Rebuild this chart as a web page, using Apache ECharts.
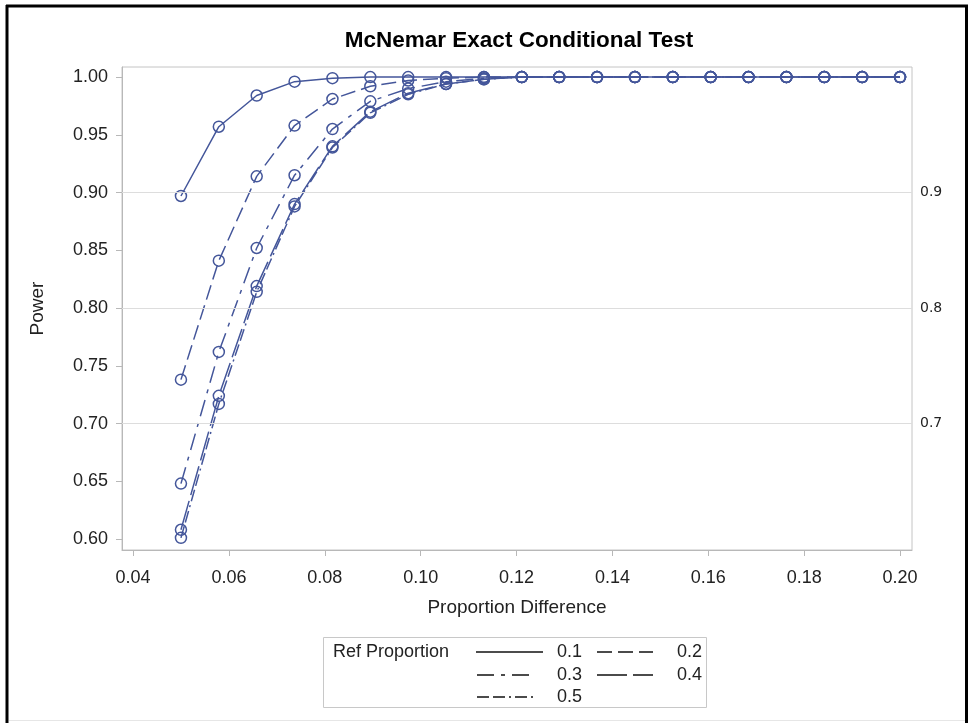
<!DOCTYPE html>
<html><head><meta charset="utf-8">
<script src="https://cdn.jsdelivr.net/npm/echarts@6/dist/echarts.min.js"></script>
<style>html,body{margin:0;padding:0;background:#fff}#c{width:969px;height:723px}</style>
</head><body><div id="c"></div>
<script>
const propDiff = [0.05, 0.0579, 0.0658, 0.0737, 0.0816, 0.0895, 0.0974, 0.1053, 0.1132, 0.1211,
                  0.1289, 0.1368, 0.1447, 0.1526, 0.1605, 0.1684, 0.1763, 0.1842, 0.1921, 0.20];
const power01 = [0.897, 0.957, 0.984, 0.996, 0.999, 1.000, 1.000, 1.000, 1.000, 1.000,
                 1.000, 1.000, 1.000, 1.000, 1.000, 1.000, 1.000, 1.000, 1.000, 1.000];
const power02 = [0.738, 0.841, 0.914, 0.958, 0.981, 0.992, 0.997, 0.999, 1.000, 1.000,
                 1.000, 1.000, 1.000, 1.000, 1.000, 1.000, 1.000, 1.000, 1.000, 1.000];
const power03 = [0.648, 0.762, 0.852, 0.915, 0.955, 0.979, 0.990, 0.996, 0.999, 1.000,
                 1.000, 1.000, 1.000, 1.000, 1.000, 1.000, 1.000, 1.000, 1.000, 1.000];
const power04 = [0.608, 0.724, 0.819, 0.890, 0.940, 0.970, 0.986, 0.994, 0.998, 1.000,
                 1.000, 1.000, 1.000, 1.000, 1.000, 1.000, 1.000, 1.000, 1.000, 1.000];
const power05 = [0.601, 0.717, 0.814, 0.888, 0.939, 0.969, 0.985, 0.994, 0.998, 1.000,
                 1.000, 1.000, 1.000, 1.000, 1.000, 1.000, 1.000, 1.000, 1.000, 1.000];
const refProps = ['0.1', '0.2', '0.3', '0.4', '0.5'];
const yTicks = [0.60, 0.65, 0.70, 0.75, 0.80, 0.85, 0.90, 0.95, 1.00];
const xTicks = [0.04, 0.06, 0.08, 0.10, 0.12, 0.14, 0.16, 0.18, 0.20];
const rightTicks = [0.7, 0.8, 0.9];

const COLOR = '#44569a';
const FONT = '"Liberation Sans", Arial, sans-serif';
const dashes = ['solid', [15, 6], [17, 7, 4, 7], [30, 6], [12, 4, 12, 4, 2, 4]];
const allPower = [power01, power02, power03, power04, power05];

const series = allPower.map((p, i) => ({
  name: refProps[i],
  type: 'line',
  z: 3,
  data: propDiff.map((x, j) => [x, p[j]]),
  symbol: 'circle',
  symbolSize: 11,
  lineStyle: { color: COLOR, width: 1.5, type: dashes[i] },
  itemStyle: { color: 'rgba(255,255,255,0)', borderColor: COLOR, borderWidth: 1.5 },
  emphasis: { disabled: true },
  animation: false
}));
series.unshift({
  type: 'line', z: 1, data: [], silent: true,
  markLine: {
    silent: true, symbol: 'none', animation: false,
    label: { show: false },
    lineStyle: { color: '#dddddd', type: 'solid', width: 1 },
    data: rightTicks.map(v => ({ yAxis: v }))
  }
});

// Legend (drawn as graphic)
const legendItems = [
  { i: 0, x: 476, y: 652, len: 67 }, { i: 1, x: 597, y: 652, len: 56 },
  { i: 2, x: 477, y: 675, len: 56 }, { i: 3, x: 597, y: 675, len: 56 },
  { i: 4, x: 477, y: 697, len: 56 }
];
const graphic = [
  { type: 'line', shape: { x1: 7, y1: 5, x2: 7, y2: 723 }, style: { stroke: '#000', lineWidth: 3 } },
  { type: 'line', shape: { x1: 6, y1: 6, x2: 968, y2: 6 }, style: { stroke: '#000', lineWidth: 3 } },
  { type: 'line', shape: { x1: 966.5, y1: 5, x2: 966.5, y2: 723 }, style: { stroke: '#000', lineWidth: 3 } },
  { type: 'line', shape: { x1: 9, y1: 720.5, x2: 965, y2: 720.5 }, style: { stroke: '#e6e6e6', lineWidth: 1 } },
  { type: 'rect', shape: { x: 323.5, y: 637.5, width: 383, height: 70 }, style: { fill: 'none', stroke: '#c8c8c8', lineWidth: 1 } },
  { type: 'text', x: 333, y: 652, style: { text: 'Ref Proportion', font: '18px ' + FONT, fill: '#222', verticalAlign: 'middle' } }
];
const labelX = { 476: 557, 477: 557, 597: 677 };
legendItems.forEach(it => {
  const d = dashes[it.i];
  graphic.push({
    type: 'line', shape: { x1: it.x, y1: it.y, x2: it.x + it.len, y2: it.y },
    style: { stroke: '#111', lineWidth: 1.4, lineDash: d === 'solid' ? null : d }
  });
  graphic.push({
    type: 'text', x: labelX[it.x], y: it.y,
    style: { text: refProps[it.i], font: '18px ' + FONT, fill: '#222', verticalAlign: 'middle' }
  });
});

const chart = echarts.init(document.getElementById('c'), null, { renderer: 'canvas' });
chart.setOption({
  animation: false,
  backgroundColor: '#fff',
  title: {
    text: 'McNemar Exact Conditional Test',
    left: 514, top: 24, textAlign: 'center',
    textStyle: { fontFamily: FONT, fontSize: 22.5, fontWeight: 'bold', color: '#000' }
  },
  grid: { left: 122, top: 67, right: 57, bottom: 173, show: true, borderColor: '#c4c4c4', borderWidth: 1, backgroundColor: 'transparent' },
  xAxis: {
    type: 'value', min: 0.0377, max: 0.2025,
    name: 'Proportion Difference', nameLocation: 'middle', nameGap: 48,
    nameTextStyle: { fontFamily: FONT, fontSize: 19, color: '#222' },
    axisLine: { show: true, lineStyle: { color: '#b8b8b8' } },
    axisTick: { show: true, length: 6, customValues: xTicks, lineStyle: { color: '#b8b8b8' } },
    axisLabel: { customValues: xTicks, margin: 19, fontFamily: FONT, fontSize: 18, color: '#222',
                 formatter: v => v.toFixed(2) },
    splitLine: { show: false }
  },
  yAxis: [{
    type: 'value', min: 0.5905, max: 1.0087, position: 'left',
    name: 'Power', nameLocation: 'middle', nameGap: 75, nameRotate: 90,
    nameTextStyle: { fontFamily: FONT, fontSize: 19, color: '#222' },
    axisLine: { show: true, lineStyle: { color: '#b8b8b8' } },
    axisTick: { show: true, length: 6, customValues: yTicks, lineStyle: { color: '#b8b8b8' } },
    axisLabel: { customValues: yTicks, margin: 14, fontFamily: FONT, fontSize: 18, color: '#222',
                 formatter: v => v.toFixed(2) },
    splitLine: { show: false }
  }, {
    type: 'value', min: 0.5905, max: 1.0087, position: 'right',
    axisLine: { show: false }, axisTick: { show: false },
    axisLabel: { customValues: rightTicks, margin: 8, fontFamily: '"DejaVu Sans", sans-serif', fontSize: 14, color: '#222',
                 formatter: v => v.toFixed(1) },
    splitLine: { show: false }
  }],
  graphic: graphic,
  series: series
});
</script></body></html>
